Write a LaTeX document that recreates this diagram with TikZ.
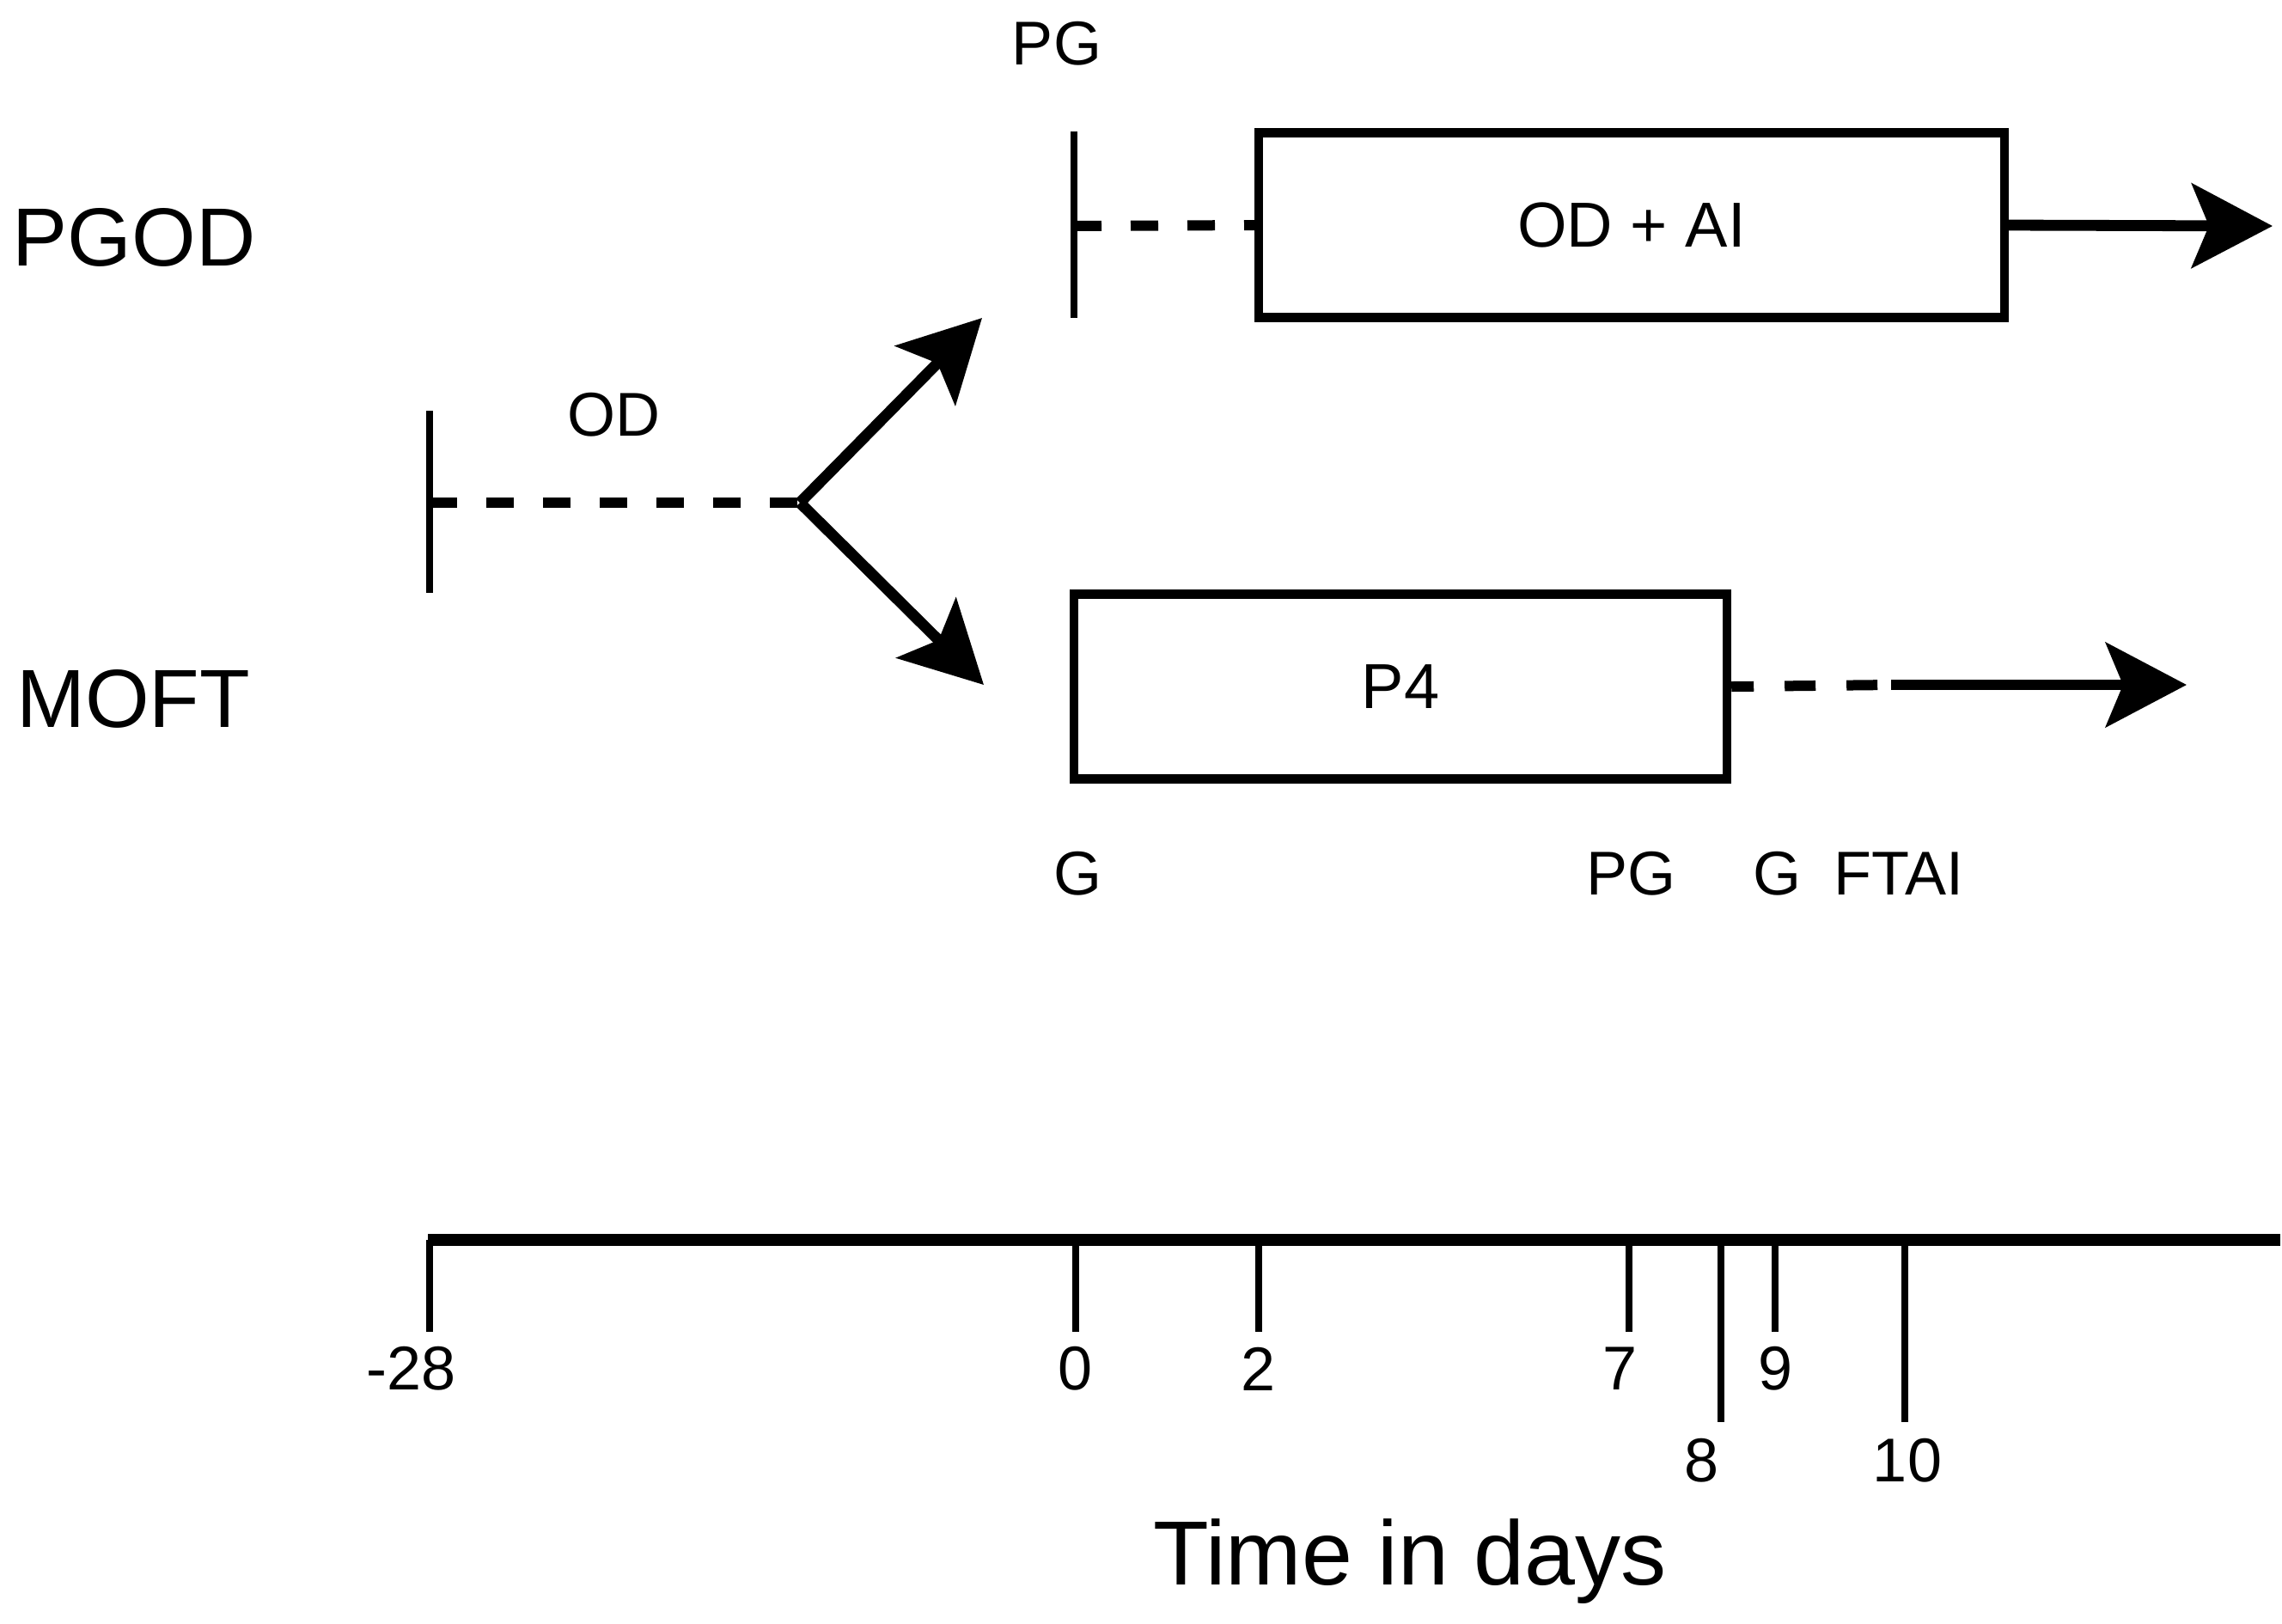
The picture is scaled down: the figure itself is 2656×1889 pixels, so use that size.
\documentclass[tikz,border=0pt]{standalone}
\usepackage{fontspec}
\setmainfont{Liberation Sans}
\usetikzlibrary{arrows.meta}
\begin{document}
\begin{tikzpicture}[x=0.25pt,y=-0.25pt,
  lbl/.style={font=\fontsize{18}{21}\selectfont, inner sep=0pt},
  grp/.style={font=\fontsize{24}{28}\selectfont, inner sep=0pt},
  ttl/.style={font=\fontsize{26.5}{30}\selectfont, inner sep=0pt},
  phasebox/.style={draw, line width=2.6pt, inner sep=0pt, font=\fontsize{18.5}{22}\selectfont},
  barline/.style={line width=2.2pt},
  dashln/.style={line width=3pt, dash pattern=on 8pt off 8.5pt},
  arr/.style={line width=3.2pt, -{Stealth[length=23.5pt,width=24.5pt,inset=5pt]}},
  axisln/.style={line width=3.5pt},
  tickln/.style={line width=2pt}]
\useasboundingbox (0,0) rectangle (2656,1889);

% group labels
\node[grp] (pgod) at (156,276) {PGOD};
\node[grp] (moft) at (155,813) {MOFT};

% start of OD and fork
\coordinate (odtop) at (500,478);
\coordinate (odbot) at (500,690);
\coordinate (odmid) at (500,585);
\coordinate (fork) at (931,585);
\coordinate (uptip) at (1143,370);
\coordinate (dntip) at (1145,797);
\draw[barline] (odtop) -- (odbot);
\draw[dashln] (odmid) -- (fork);
\node[lbl] (odl) at (714,483) {OD};
\draw[arr] (fork) -- (uptip);
\draw[arr] (fork) -- (dntip);

% PGOD branch
\coordinate (pgtop) at (1250,153);
\coordinate (pgbot) at (1250,370);
\coordinate (pgmid) at (1250,263);
\draw[barline] (pgtop) -- (pgbot);
\node[lbl] (pgl) at (1230,51) {PG};
\node[phasebox, minimum width=217pt, minimum height=53.75pt] (odai) at (1899,262) {OD + AI};
\draw[dashln] (pgmid) -- (odai.west);
\coordinate (pgend) at (2645,263);
\draw[arr] (odai.east) -- (pgend);

% MOFT branch
\node[phasebox, minimum width=190pt, minimum height=53.75pt] (p4) at (1630,799) {P4};
\coordinate (p4dash) at (2201,797);
\coordinate (p4end) at (2545,797);
\draw[line width=3pt, dash pattern=on 9pt off 9pt, dash phase=2.5pt] (p4.east) -- (p4dash);
\draw[arr] (p4dash) -- (p4end);
\node[lbl] (gl1) at (1254,1017) {G};
\node[lbl] (pgl2) at (1898,1017) {PG};
\node[lbl] (gl2) at (2068,1017) {G};
\node[lbl] (ftai) at (2210,1017) {FTAI};

% time axis
\coordinate (axL) at (498,1443);
\coordinate (axR) at (2654,1443);
\draw[axisln] (axL) -- (axR);
\foreach \nm/\xx/\yb in {tm28/500/1550, t0/1252/1550, t2/1465/1550, t7/1896/1550, t8/2003/1655, t9/2066/1550, t10/2217/1655}{
  \coordinate (\nm a) at (\xx,1443);
  \coordinate (\nm b) at (\xx,\yb);
  \draw[tickln] (\nm a) -- (\nm b);
}
\node[lbl] (lm28) at (479,1593) {-28};
\node[lbl] (l0) at (1252,1593) {0};
\node[lbl] (l2) at (1465,1593) {2};
\node[lbl] (l7) at (1885,1593) {7};
\node[lbl] (l9) at (2066,1593) {9};
\node[lbl] (l8) at (1980,1700) {8};
\node[lbl] (l10) at (2220,1700) {10};
\node[ttl] (tid) at (1641,1817) {Time in days};
\end{tikzpicture}
\end{document}
